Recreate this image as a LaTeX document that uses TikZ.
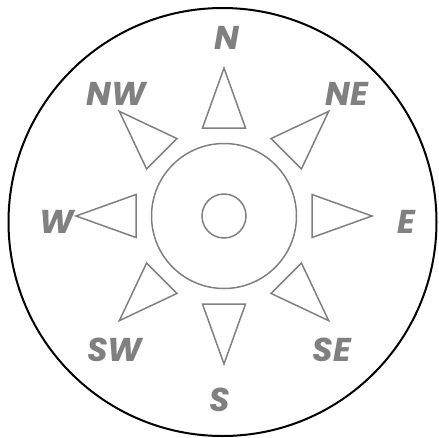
\documentclass[tikz,border=0pt]{standalone}
\usepackage{fontspec}
\setsansfont{Poppins}
\definecolor{needle}{HTML}{808080}

\begin{document}
\begin{tikzpicture}[x=1pt,y=-1pt,
   rose/.style={draw=needle,line width=1.5pt},
   dir/.style={text=needle,inner sep=0pt,font=\sffamily\bfseries\itshape\fontsize{33}{33}\selectfont}]
  \useasboundingbox (0,0) rectangle (439,437);
  \draw[line width=2pt] (222.5,222) circle[radius=214];
  \begin{scope}[shift={(224,216)}]
    \draw[rose] (0,0) circle[radius=72.5];
    \draw[rose] (0,0) circle[radius=22];
    \foreach \a in {0,45,...,315}{
       \draw[rose,rotate=\a] (88,-21.5) -- (148,0) -- (88,21.5) -- cycle;}
  \end{scope}
  \foreach \nm/\x/\y in {N/227/38,NE/347/94,E/406/222,SE/332/350,
                         S/220/400,SW/115/350,W/57/222,NW/116/94}{
     \node[dir] (\nm) at (\x,\y) {\nm};}
\end{tikzpicture}
\end{document}
